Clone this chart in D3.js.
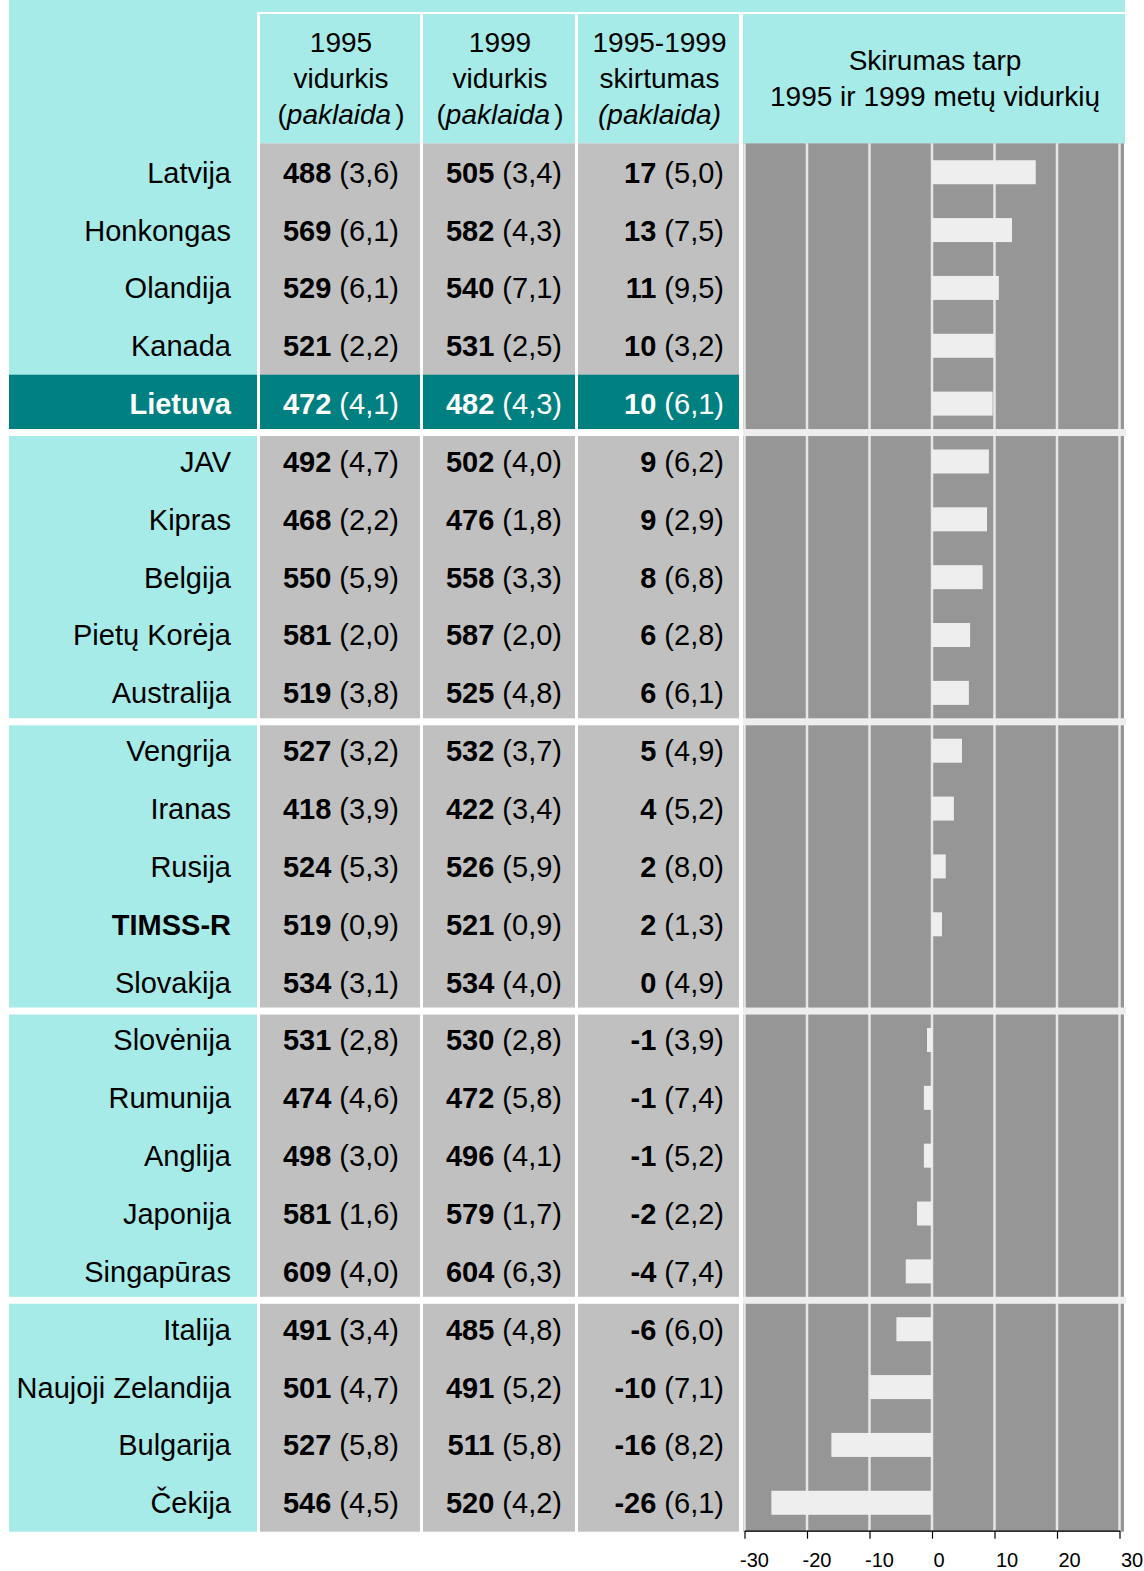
<!DOCTYPE html>
<html>
<head>
<meta charset="utf-8">
<script src="https://cdn.jsdelivr.net/npm/d3@7"></script>
<style>
  html, body { margin: 0; padding: 0; background: #ffffff; }
  svg { display: block; font-family: "Liberation Sans", Arial, Helvetica, sans-serif; }
</style>
</head>
<body>
<svg id="chart" width="1144" height="1571"></svg>
<script>
// ---- Data ----
const countries = ["Latvija","Honkongas","Olandija","Kanada","Lietuva",
  "JAV","Kipras","Belgija","Pietų Korėja","Australija",
  "Vengrija","Iranas","Rusija","TIMSS-R","Slovakija",
  "Slovėnija","Rumunija","Anglija","Japonija","Singapūras",
  "Italija","Naujoji Zelandija","Bulgarija","Čekija"];
const mean1995 = [488,569,529,521,472, 492,468,550,581,519, 527,418,524,519,534, 531,474,498,581,609, 491,501,527,546];
const se1995   = [3.6,6.1,6.1,2.2,4.1, 4.7,2.2,5.9,2.0,3.8, 3.2,3.9,5.3,0.9,3.1, 2.8,4.6,3.0,1.6,4.0, 3.4,4.7,5.8,4.5];
const mean1999 = [505,582,540,531,482, 502,476,558,587,525, 532,422,526,521,534, 530,472,496,579,604, 485,491,511,520];
const se1999   = [3.4,4.3,7.1,2.5,4.3, 4.0,1.8,3.3,2.0,4.8, 3.7,3.4,5.9,0.9,4.0, 2.8,5.8,4.1,1.7,6.3, 4.8,5.2,5.8,4.2];
const diff     = [17,13,11,10,10, 9,9,8,6,6, 5,4,2,2,0, -1,-1,-1,-2,-4, -6,-10,-16,-26];
const seDiff   = [5.0,7.5,9.5,3.2,6.1, 6.2,2.9,6.8,2.8,6.1, 4.9,5.2,8.0,1.3,4.9, 3.9,7.4,5.2,2.2,7.4, 6.0,7.1,8.2,6.1];
// bar lengths (unrounded differences)
const barValues = [16.6,12.8,10.7,9.9,9.7, 9.1,8.8,8.1,6.1,5.9, 4.8,3.5,2.2,1.6,0, -0.8,-1.3,-1.3,-2.4,-4.2, -5.7,-10,-16.1,-25.7];
const groupEnds = [4,9,14,19];           // index of last row in each group
const highlightCountry = "Lietuva";
const boldLabel = "TIMSS-R";
const axisTicks = [-30,-20,-10,0,10,20,30];
const headers = [
  ["1995","vidurkis","(|paklaida|)"],
  ["1999","vidurkis","(|paklaida|)"],
  ["1995-1999","skirtumas","|(paklaida)|"]
];
const chartTitle = ["Skirumas tarp","1995 ir 1999 metų vidurkių"];

// ---- Styles ----
const C_CYAN = "#a6ebe8", C_TEAL = "#008080", C_CELL = "#c0c0c0",
      C_CHART = "#969696", C_BAR = "#eeeeee", C_GRID = "#e6e6e6";
const FS = 29;

const svg = d3.select("#chart");
const fmt = v => d3.format(".1f")(v).replace(".", ",");

// Layout
const cols = [ {x0:9,   x1:257}, {x0:260, x1:420}, {x0:423, x1:575}, {x0:578, x1:739} ];
const chartX0 = 743, chartX1 = 1124;
const headTop = 14, rowTop = 143.3, pitch = 57.85;
const rowBottom = rowTop + pitch * countries.length;

const y = d3.scaleBand().domain(countries).range([rowTop, rowBottom]).paddingInner(0);
const x = d3.scaleLinear().domain([-30, 30]).range([744.5, 1119.5]);

// Top cyan band + label column
svg.append("rect").attr("x", 9).attr("y", 0).attr("width", 1125 - 9).attr("height", 12).attr("fill", C_CYAN);
svg.append("rect").attr("x", cols[0].x0).attr("y", 0).attr("width", cols[0].x1 - cols[0].x0).attr("height", rowBottom).attr("fill", C_CYAN);

// Header cells
cols.slice(1).forEach(c => {
  svg.append("rect").attr("x", c.x0).attr("y", headTop).attr("width", c.x1 - c.x0).attr("height", rowTop - headTop).attr("fill", C_CYAN);
});
svg.append("rect").attr("x", chartX0).attr("y", headTop).attr("width", 1125 - chartX0).attr("height", rowTop - headTop).attr("fill", C_CYAN);

// Header texts
headers.forEach((lines, i) => {
  const c = cols[i + 1];
  const cx = (c.x0 + c.x1) / 2 + 1;
  lines.forEach((ln, j) => {
    const t = svg.append("text").attr("x", cx).attr("y", 52 + j * 36)
      .attr("text-anchor", "middle").attr("font-size", 28).attr("fill", "#000");
    const parts = ln.split("|");
    parts.forEach((p, k) => {
      if (p === "") return;
      const ts = t.append("tspan").attr("font-style", k % 2 === 1 ? "italic" : "normal").text(p);
      if (p === ")") ts.attr("dx", 4);
    });
  });
});
chartTitle.forEach((ln, j) => {
  svg.append("text").attr("x", 935).attr("y", 70 + j * 36).attr("text-anchor", "middle")
    .attr("font-size", 28).attr("fill", "#000").text(ln);
});

// Data columns (one rect per column, full height) + highlight row
cols.slice(1).forEach(c => {
  svg.append("rect").attr("x", c.x0).attr("y", rowTop).attr("width", c.x1 - c.x0).attr("height", rowBottom - rowTop)
    .attr("fill", C_CELL);
});
countries.forEach((name) => {
  if (name !== highlightCountry) return;
  const yy = y(name), h = y.bandwidth();
  cols.forEach(c => {
    svg.append("rect").attr("x", c.x0).attr("y", yy).attr("width", c.x1 - c.x0).attr("height", h).attr("fill", C_TEAL);
  });
});

// Chart background
svg.append("rect").attr("x", chartX0).attr("y", rowTop).attr("width", chartX1 - chartX0).attr("height", rowBottom - rowTop).attr("fill", C_CHART);

// Gridlines
svg.selectAll("line.grid").data(axisTicks).enter().append("line").attr("class", "grid")
  .attr("x1", d => x(d)).attr("x2", d => x(d)).attr("y1", rowTop).attr("y2", rowBottom)
  .attr("stroke", C_GRID).attr("stroke-width", 2.5);

// Bars
svg.selectAll("rect.bar").data(countries).enter().append("rect").attr("class", "bar")
  .attr("x", (d, i) => x(Math.min(0, barValues[i])))
  .attr("width", (d, i) => Math.abs(x(barValues[i]) - x(0)))
  .attr("y", d => y(d) + y.bandwidth() / 2 - 12)
  .attr("height", 24)
  .attr("fill", C_BAR);

// Group separators
groupEnds.forEach(gi => {
  const by = y(countries[gi]) + y.bandwidth();
  svg.append("rect").attr("x", cols[0].x0).attr("y", by - 3.5).attr("width", chartX0 - cols[0].x0).attr("height", 7).attr("fill", "#ffffff");
  svg.append("rect").attr("x", chartX0).attr("y", by - 3.5).attr("width", 1126 - chartX0).attr("height", 7).attr("fill", "#eeeeee");
});

// Row texts
countries.forEach((name, i) => {
  const cy = y(name) + y.bandwidth() / 2;
  const hl = name === highlightCountry;
  const col = hl ? "#ffffff" : "#000000";
  svg.append("text").attr("x", 231).attr("y", cy).attr("dy", "0.36em").attr("text-anchor", "end")
    .attr("font-size", FS).attr("fill", col)
    .attr("font-weight", (hl || name === boldLabel) ? "bold" : "normal").text(name);
  const cells = [
    {right: 399, v: mean1995[i], s: se1995[i]},
    {right: 562, v: mean1999[i], s: se1999[i]},
    {right: 724, v: diff[i], s: seDiff[i]}
  ];
  cells.forEach(c => {
    const t = svg.append("text").attr("x", c.right).attr("y", cy).attr("dy", "0.36em").attr("text-anchor", "end")
      .attr("font-size", FS).attr("fill", col);
    t.append("tspan").attr("font-weight", "bold").text(String(c.v));
    t.append("tspan").attr("font-weight", "normal").text(" (" + fmt(c.s) + ")");
  });
});

// Axis
const axisY = rowBottom - 1;
const ax = svg.append("g").attr("transform", `translate(0,${axisY})`)
  .call(d3.axisBottom(x).tickValues(axisTicks).tickSize(8).tickSizeOuter(0).tickFormat(d => String(d)));
ax.select(".domain").attr("stroke", "#000").attr("stroke-width", 1.2);
ax.selectAll(".tick line").attr("stroke", "#000").attr("stroke-width", 1.2);
ax.selectAll(".tick text").attr("font-size", 20).attr("font-family", "Liberation Sans, Arial, sans-serif")
  .attr("fill", "#000").attr("text-anchor", "start").attr("dx", d => d < 0 ? -5 : 1).attr("y", 22);
</script>
</body>
</html>
